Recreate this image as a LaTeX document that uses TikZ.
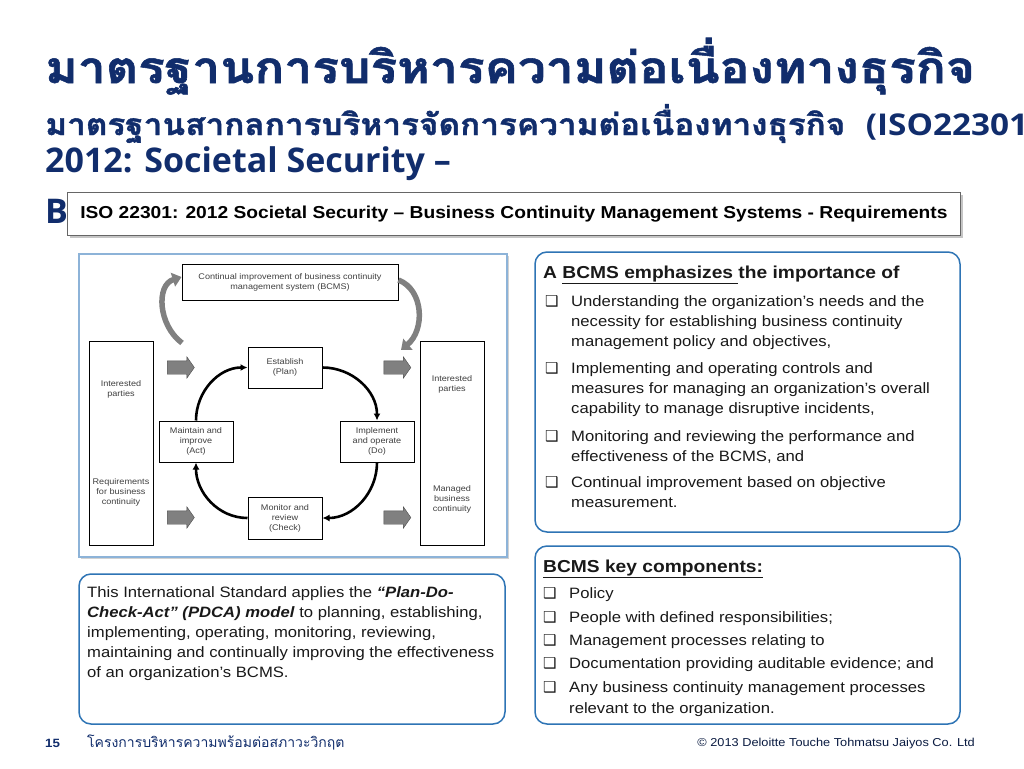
\documentclass[tikz,border=0pt]{standalone}
\usepackage{fontspec}
\setmainfont[FakeStretch=1.11]{Liberation Sans}
\newfontfamily\thaifont[Script=Thai]{Loma}
\newfontfamily\thaititle[Script=Thai, FakeBold=1.2]{Loma}
\newfontfamily\headfont{Open Sans}
\newfontfamily\symfont{DejaVu Sans}
\usetikzlibrary{positioning, shapes.arrows, arrows.meta, shadows}
\definecolor{navy}{HTML}{112D6C}
\definecolor{boxblue}{HTML}{2E74B5}
\definecolor{panelblue}{HTML}{8DB3D8}
\definecolor{arrowgray}{HTML}{808080}
\newcommand{\sqb}{\makebox[26pt][l]{\symfont\char"2751}}

\begin{document}
\begin{tikzpicture}[x=1pt, y=-1pt,
    pdca/.style={draw, line width=1pt, fill=white, align=center, text=black!75,
        font=\fontsize{8.2}{10}\selectfont, inner sep=1pt},
    side/.style={draw, line width=1pt, minimum width=64pt, minimum height=204pt},
    sidetxt/.style={align=center, text=black!75, font=\fontsize{8.2}{10}\selectfont},
    cyc/.style={line width=2.6pt, -{Latex[length=7pt, width=7pt]}},
    blk/.style={single arrow, fill=arrowgray, draw=arrowgray!60!black, line width=0.4pt,
        minimum height=27pt, inner xsep=0pt, inner ysep=6.5pt,
        single arrow head extend=4pt, single arrow tip angle=110},
    curvy/.style={line width=5.5pt, draw=arrowgray, -{Triangle[length=9pt, width=14pt]}},
    infobox/.style={draw=boxblue, line width=1.5pt, rounded corners=12pt, fill=white},
    itm/.style={anchor=base west, inner sep=0pt, text=black!90,
        font=\fontsize{15}{20}\selectfont},
    hd/.style={anchor=base west, inner sep=0pt, text=navy}]

    \useasboundingbox (0,0) rectangle (1024,768);
    \clip (0,0) rectangle (1024,768);
    \fill[white] (0,0) rectangle (1024,768);

    % title
    \node[hd, font=\thaititle\bfseries\fontsize{44}{50}\selectfont] (title) at (45,83)
        {\scalebox{1.13}[1]{มาตรฐานการบริหารความต่อเนื่องทางธุรกิจ}};
    \node[hd, font=\bfseries\fontsize{30}{36}\selectfont] (sub1) at (45,135)
        {\scalebox{1.11}[1]{{\thaititle มาตรฐานสากลการบริหารจัดการความต่อเนื่องทางธุรกิจ}\ \ {\headfont (ISO22301}}};
    \node[hd, font=\headfont\bfseries\fontsize{34}{40}\selectfont] (sub2) at (45,172)
        {2012: Societal Security –};
    \node[hd, font=\headfont\bfseries\fontsize{34}{40}\selectfont] (sub3) at (45,223) {B};

    \node[draw=black!60, line width=0.8pt, fill=white, minimum width=893pt, minimum height=43pt,
        drop shadow={shadow xshift=3pt, shadow yshift=-3pt, opacity=0.45},
        font=\bfseries\fontsize{17.3}{20}\selectfont, anchor=north west] (iso) at (67,192)
        {ISO 22301: 2012 Societal Security – Business Continuity Management Systems - Requirements};

    % PDCA picture
    \draw[draw=panelblue, line width=1.2pt, fill=white,
        drop shadow={shadow xshift=2pt, shadow yshift=-2pt, opacity=0.35}] (79,254) rectangle (507,557);

    \node[pdca, minimum width=216pt, minimum height=36pt] (cont) at (290,282)
        {Continual improvement of business continuity\\management system (BCMS)};
    \node[side] (lside) at (121,443) {};
    \node[side] (rside) at (452,443) {};
    \node[sidetxt] (ip1) at (121,389) {Interested\\parties};
    \node[sidetxt] (req) at (121,492) {Requirements\\for business\\continuity};
    \node[sidetxt] (ip2) at (452,384) {Interested\\parties};
    \node[sidetxt] (mbc) at (452,499) {Managed\\business\\continuity};

    \node[pdca, minimum width=74pt, minimum height=41pt] (plan) at (285,367.5) {Establish\\(Plan)};
    \node[pdca, minimum width=74pt, minimum height=41pt] (do) at (377,441.5) {Implement\\and operate\\(Do)};
    \node[pdca, minimum width=74pt, minimum height=42pt] (check) at (285,518) {Monitor and\\review\\(Check)};
    \node[pdca, minimum width=74pt, minimum height=41pt] (act) at (196,441.5) {Maintain and\\improve\\(Act)};

    \draw[cyc] (act.north) to[out=90, in=180] (plan.west);
    \draw[cyc] (plan.east) to[out=0, in=90] (do.north);
    \draw[cyc] (do.south) to[out=-90, in=0] (check.east);
    \draw[cyc] (check.west) to[out=180, in=-90] (act.south);

    \node[blk] (in1) at (178.5,367.5) {};
    \node[blk] (in2) at (178.5,517.5) {};
    \node[blk] (out1) at (395,367.5) {};
    \node[blk] (out2) at (395,517.5) {};

    \coordinate (lfoot) at (182,343);
    \coordinate (rfoot) at (401,350);
    \draw[curvy] (lfoot) .. controls (158,325) and (156,285) .. ([yshift=5pt]cont.west);
    \draw[curvy] ([yshift=2pt]cont.east) .. controls (424,290) and (425,330) .. (rfoot);

    % BCMS emphasizes
    \draw[infobox] (535,252) rectangle (960,532);
    \node[itm, font=\bfseries\fontsize{17.3}{20}\selectfont] (emph) at (543,278)
        {A \underline{BCMS emphasizes\ }the importance of};
    \node[itm] (e1) at (545,306) {\sqb\parbox[t]{380pt}{Understanding the organization’s needs and the\\
        necessity for establishing business continuity\\management policy and objectives,}};
    \node[itm] (e2) at (545,373) {\sqb\parbox[t]{380pt}{Implementing and operating controls and\\
        measures for managing an organization’s overall\\capability to manage disruptive incidents,}};
    \node[itm] (e3) at (545,441) {\sqb\parbox[t]{380pt}{Monitoring and reviewing the performance and\\
        effectiveness of the BCMS, and}};
    \node[itm] (e4) at (545,487) {\sqb\parbox[t]{380pt}{Continual improvement based on objective\\measurement.}};

    % key components
    \draw[infobox] (535,546) rectangle (960,724);
    \node[itm, font=\bfseries\fontsize{17.3}{20}\selectfont] (keys) at (543,572)
        {\underline{BCMS key components:}};
    \node[itm] (k1) at (543,598) {\sqb Policy};
    \node[itm] (k2) at (543,622) {\sqb People with defined responsibilities;};
    \node[itm] (k3) at (543,645) {\sqb Management processes relating to};
    \node[itm] (k4) at (543,668) {\sqb Documentation providing auditable evidence; and};
    \node[itm, font=\fontsize{15}{21}\selectfont] (k5) at (543,692)
        {\sqb\parbox[t]{390pt}{Any business continuity management processes\\relevant to the organization.}};

    % PDCA note
    \draw[infobox] (79,574) rectangle (505,724);
    \node[itm] (note) at (87,597) {\parbox[t]{415pt}{This International Standard applies the
        \textbf{\textit{“Plan-Do-}}\\\textbf{\textit{Check-Act” (PDCA) model}} to planning, establishing,\\
        implementing, operating, monitoring, reviewing,\\
        maintaining and continually improving the effectiveness\\
        of an organization’s BCMS.}};

    % footer
    \node[hd, font=\bfseries\fontsize{12}{14}\selectfont] (page) at (45,747) {15};
    \node[hd, font=\thaifont\fontsize{14}{16}\selectfont] (proj) at (87,747)
        {โครงการบริหารความพร้อมต่อสภาวะวิกฤต};
    \node[anchor=base east, inner sep=0pt, text=navy!60!black, font=\fontsize{11.5}{13}\selectfont]
        (copy) at (975,746) {© 2013 Deloitte Touche Tohmatsu Jaiyos Co. Ltd};

\end{tikzpicture}
\end{document}
